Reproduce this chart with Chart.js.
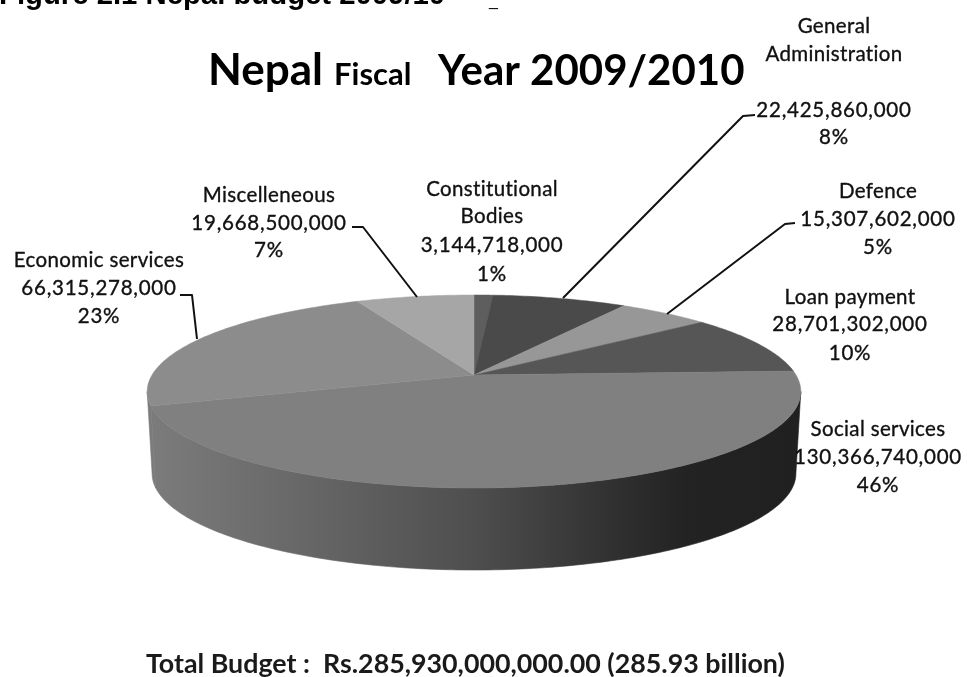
<!DOCTYPE html>
<html>
<head>
<meta charset="utf-8">
<title>Nepal Fiscal Year 2009/2010</title>
<script src="https://cdn.jsdelivr.net/npm/chart.js@4"></script>
<style>
  html, body { margin: 0; padding: 0; background: #fff; overflow: hidden; }
  canvas { display: block; }
</style>
</head>
<body>
<canvas id="budget" width="967" height="677"></canvas>
<script>
const categories = [
  "Constitutional Bodies",
  "General Administration",
  "Defence",
  "Loan payment",
  "Social services",
  "Economic services",
  "Miscelleneous",
];
const budgetValues = [
  3144718000, 22425860000, 15307602000, 28701302000, 130366740000,
  66315278000, 19668500000,
];
const sharePercents = [1, 8, 5, 10, 46, 23, 7];
const sliceColors = [
  "#5e5e5e", "#4a4a4a", "#979797", "#565656", "#808080", "#8c8c8c", "#a6a6a6",
];

// perspective disc: apex at (cx, cy), k is the foreshortening
const disc = { cx: 474, cy: 375, a: 322, b: 93.7, k: 0.171, depth: 82, shrink: 0.985 };

const labelLayout = [
  { x: 492, lines: [[189, "Constitutional"], [216, "Bodies"], [245, "$"], [274, "%"]] },
  { x: 834, lines: [[26, "General"], [54, "Administration"], [110, "$"], [137, "%"]] },
  { x: 878, lines: [[191, "Defence"], [219, "$"], [247, "%"]] },
  { x: 850, lines: [[297, "Loan payment"], [324, "$"], [353, "%"]] },
  { x: 878, lines: [[429, "Social services"], [457, "$"], [485, "%"]] },
  { x: 99, lines: [[260, "Economic services"], [288, "$"], [316, "%"]] },
  { x: 269, lines: [[195, "Miscelleneous"], [223, "$"], [250, "%"]] },
];

const leaders = [
  [[352, 227], [363, 227], [417, 297]],
  [[180, 295], [192, 295], [197, 339]],
  [[755, 115], [743, 116], [563, 298]],
  [[795, 223], [785, 224], [667, 314]],
];

function project(angle, lower) {
  const w = 1 - disc.k * Math.sin(angle);
  const scale = lower ? disc.shrink : 1;
  return [
    disc.cx + (disc.a * scale * Math.cos(angle)) / w,
    disc.cy + (lower ? disc.depth : 0) + (disc.b * Math.sin(angle)) / w,
  ];
}

function anglesBetween(start, end) {
  const n = Math.max(2, Math.ceil((end - start) * 60));
  const out = [];
  for (let i = 0; i <= n; i++) out.push(start + ((end - start) * i) / n);
  return out;
}

// the walls only show between the two widest points of the disc
function frontRange(start, end) {
  const from = Math.asin(disc.k);
  const to = Math.PI - from;
  for (const shift of [0, 2 * Math.PI, -2 * Math.PI]) {
    const s = Math.max(start, from + shift);
    const e = Math.min(end, to + shift);
    if (e > s) return [s, e];
  }
  return null;
}

const perspectivePie = {
  id: "perspectivePie",
  beforeDatasetDraw(chart, args) {
    const ctx = chart.ctx;
    const arcs = args.meta.data;

    const wall = ctx.createLinearGradient(147, 0, 803, 0);
    wall.addColorStop(0, "#7c7c7c");
    wall.addColorStop(0.24, "#676767");
    wall.addColorStop(0.5, "#4e4e4e");
    wall.addColorStop(0.7, "#323232");
    wall.addColorStop(0.82, "#232323");
    wall.addColorStop(1, "#202020");

    ctx.save();
    arcs.forEach((arc) => {
      const range = frontRange(arc.startAngle, arc.endAngle);
      if (!range) return;
      const steps = anglesBetween(range[0], range[1]);
      ctx.beginPath();
      steps.forEach((t, i) => {
        const p = project(t, false);
        if (i === 0) ctx.moveTo(p[0], p[1]);
        else ctx.lineTo(p[0], p[1]);
      });
      steps.slice().reverse().forEach((t) => {
        const p = project(t, true);
        ctx.lineTo(p[0], p[1]);
      });
      ctx.closePath();
      ctx.fillStyle = wall;
      ctx.strokeStyle = wall;
      ctx.lineWidth = 0.6;
      ctx.fill();
      ctx.stroke();
    });

    arcs.forEach((arc, i) => {
      ctx.beginPath();
      ctx.moveTo(disc.cx, disc.cy);
      anglesBetween(arc.startAngle, arc.endAngle).forEach((t) => {
        const p = project(t, false);
        ctx.lineTo(p[0], p[1]);
      });
      ctx.closePath();
      ctx.fillStyle = sliceColors[i];
      ctx.strokeStyle = sliceColors[i];
      ctx.lineWidth = 0.5;
      ctx.fill();
      ctx.stroke();
    });
    ctx.restore();
    return false;
  },
  afterDraw(chart) {
    const ctx = chart.ctx;
    ctx.save();

    ctx.strokeStyle = "#111";
    ctx.lineWidth = 2;
    ctx.lineJoin = "round";
    ctx.filter = "blur(0.3px)";
    leaders.forEach((pts) => {
      ctx.beginPath();
      pts.forEach((p, i) => (i ? ctx.lineTo(p[0], p[1]) : ctx.moveTo(p[0], p[1])));
      ctx.stroke();
    });

    ctx.filter = "blur(0.45px)";
    ctx.fillStyle = "#111";
    ctx.strokeStyle = "#111";
    ctx.lineWidth = 0.35;
    ctx.textAlign = "center";
    ctx.textBaseline = "middle";
    ctx.font = "20.5px Lato";
    labelLayout.forEach((item, i) => {
      item.lines.forEach(([y, line]) => {
        let text = line;
        if (line === "$") text = budgetValues[i].toLocaleString("en-US");
        if (line === "%") text = sharePercents[i] + "%";
        const numeric = line === "$" || line === "%";
        ctx.letterSpacing = numeric ? "0.75px" : "0.35px";
        ctx.fillText(text, item.x, y);
        ctx.strokeText(text, item.x, y);
      });
    });

    ctx.letterSpacing = "0px";
    ctx.textAlign = "left";
    ctx.textBaseline = "alphabetic";
    ctx.fillStyle = "#000";
    ctx.font = "bold 44px Lato";
    ctx.fillText("Nepal", 208, 85);
    ctx.font = "bold 31px Lato";
    ctx.fillText("Fiscal", 334, 85);
    ctx.font = "bold 42px Lato";
    ctx.fillText("Year 2009/2010", 438, 85);

    ctx.fillStyle = "#1a1a1a";
    ctx.font = "bold 26.8px Lato";
    ctx.fillText("Total Budget :  Rs.285,930,000,000.00 (285.93 billion)", 146, 673);

    ctx.filter = "none";
    ctx.fillStyle = "#000";
    ctx.font = 'bold 29.3px "Liberation Sans"';
    ctx.fillText("Figure 2.1 Nepal budget 2009/10", -1, 4);
    ctx.font = '16px "Liberation Sans"';
    ctx.fillText("_", 489, 6);
    ctx.restore();
  },
};

new Chart(document.getElementById("budget"), {
  type: "pie",
  data: {
    labels: categories,
    datasets: [{ data: budgetValues, backgroundColor: sliceColors, borderWidth: 0 }],
  },
  options: {
    responsive: false,
    animation: false,
    layout: { padding: 0 },
    plugins: { legend: { display: false }, tooltip: { enabled: false } },
  },
  plugins: [perspectivePie],
});
</script>
</body>
</html>
